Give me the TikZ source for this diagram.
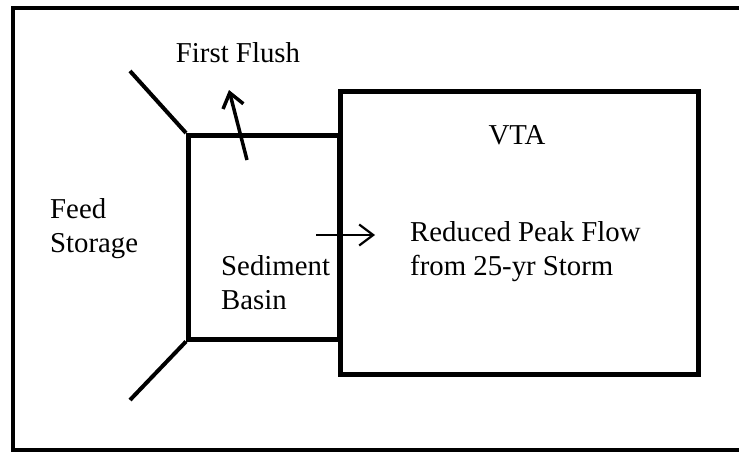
\documentclass[tikz,border=0pt]{standalone}
\usepackage{fontspec}
\setmainfont{Liberation Serif}
\usetikzlibrary{arrows.meta,positioning}
\tikzset{
  frm/.style={line width=4.5pt},
  tank/.style={draw, line width=4.5pt, inner sep=0pt, anchor=north west},
  wall/.style={line width=4pt},
  flw/.style={-{Straight Barb[length=14pt, width=21pt]}, line width=2.2pt},
  lbl/.style={font=\fontsize{28.8}{34}\selectfont, align=left, inner sep=0pt},
}

\begin{document}
\begin{tikzpicture}[x=1pt,y=-1pt]
\useasboundingbox (0,0) rectangle (739,452);
% open frame, cut off on the right
\draw[frm] (739,8) -- (13,8) -- (13,450) -- (739,450);
% basin and treatment area
\node[tank, minimum width=151pt, minimum height=204pt] (basin) at (186,133) {};
\node[tank, minimum width=358pt, minimum height=283pt] (vta) at (338,89) {};
\coordinate (inTop) at (130,71);
\coordinate (inBot) at (130,400);
\draw[wall] (inTop) -- (basin.north west);
\draw[wall] (inBot) -- (basin.south west);
% labels
\node[lbl] (flush) at (238,53) {First Flush};
\node[lbl, anchor=west] (feed) at (50,229) {Feed\\Storage};
\node[lbl, anchor=west] (sed) at (221,283) {Sediment\\Basin};
\node[lbl] (vtaname) at (517,135) {VTA};
\node[lbl, anchor=west] (peak) at (410,252) {Reduced Peak Flow\\from 25-yr Storm};
% flows
\coordinate (ffStart) at (247,160);
\coordinate (ffTip) at (229,90);
\coordinate (sedOut) at (316,235);
\coordinate (vtaIn) at (375,235);
\draw[flw, line width=3.5pt] (ffStart) -- (ffTip);
\draw[flw] (sedOut) -- (vtaIn);
\end{tikzpicture}
\end{document}
